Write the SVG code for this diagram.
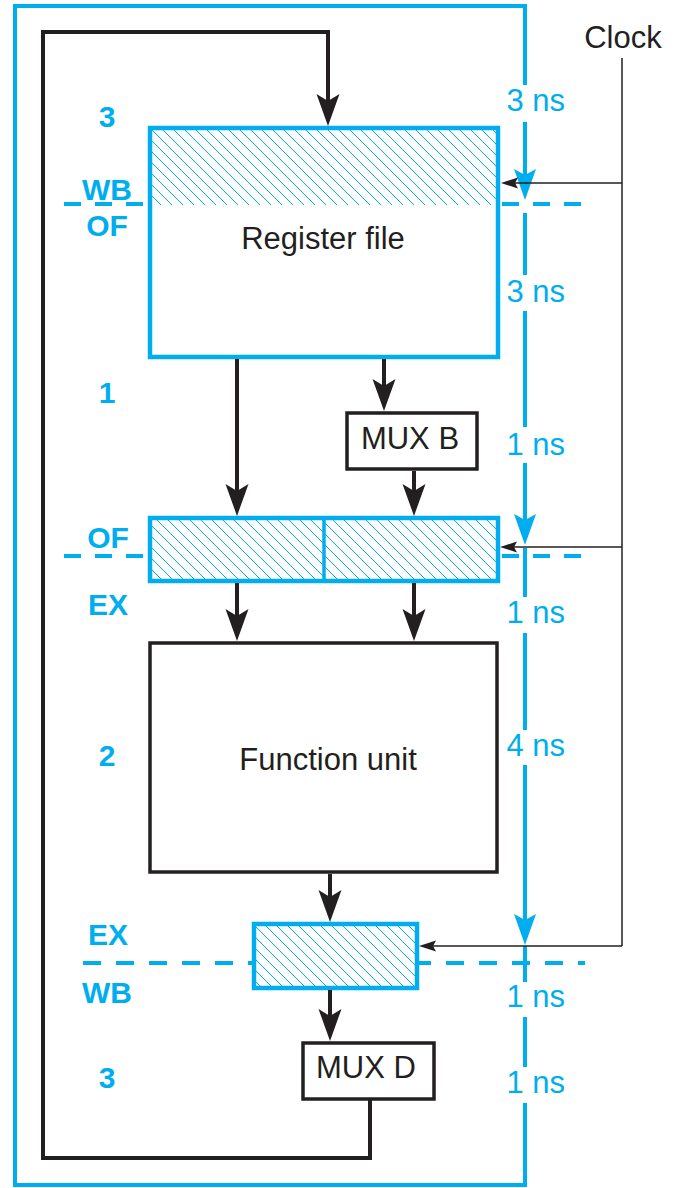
<svg xmlns="http://www.w3.org/2000/svg" width="685" height="1188" viewBox="0 0 685 1188">
<defs>
<style>
.frame{stroke:#00AEEF;stroke-width:4;fill:none}
.dash{stroke:#00AEEF;stroke-width:4;stroke-dasharray:17 14;fill:none}
.dash2{stroke:#00AEEF;stroke-width:4;stroke-dasharray:18 15;fill:none}
.tarrow{stroke:#00AEEF;stroke-width:4;fill:none;marker-end:url(#ahb)}
.reg{fill:url(#hatch);stroke:#00AEEF;stroke-width:4.5}
.regw{fill:#fff;stroke:none}
.regb{fill:none;stroke:#00AEEF;stroke-width:4.5}
.box{fill:#fff;stroke:#231F20;stroke-width:3.5}
.wire{stroke:#231F20;stroke-width:4;fill:none;stroke-linejoin:miter}
.wa{marker-end:url(#ah)}
.clk{stroke:#231F20;stroke-width:1.5;fill:none}
.ca{marker-end:url(#ahc)}
.t{font-family:'Liberation Sans',Arial,Helvetica,sans-serif;font-size:31px;fill:#231F20;text-anchor:middle}
.ns{font-family:'Liberation Sans',Arial,Helvetica,sans-serif;font-size:31px;fill:#00AEEF;text-anchor:end}
.lb{font-family:'Liberation Sans',Arial,Helvetica,sans-serif;font-size:30px;font-weight:bold;fill:#00AEEF;text-anchor:middle}
</style>
<pattern id="hatch" patternUnits="userSpaceOnUse" width="11" height="11">
<rect width="11" height="11" fill="#fff"/>
<path d="M-1,-1 L12,12 M-1,10 L1,12 M10,-1 L12,1" stroke="#00AEEF" stroke-width="1"/>
</pattern>
<marker id="ah" markerUnits="userSpaceOnUse" viewBox="-8 -12 34 24" refX="3" refY="0" markerWidth="34" markerHeight="24" orient="auto">
<path d="M-7,-11.5 L25,0 L-7,11.5 L0,0 Z" fill="#231F20"/>
</marker>
<marker id="ahb" markerUnits="userSpaceOnUse" viewBox="-8 -12 34 24" refX="3" refY="0" markerWidth="34" markerHeight="24" orient="auto">
<path d="M-6,-11 L25,0 L-6,11 L0,0 Z" fill="#00AEEF"/>
</marker>
<marker id="ahc" markerUnits="userSpaceOnUse" viewBox="-4 -7 19 14" refX="2" refY="0" markerWidth="19" markerHeight="14" orient="auto">
<path d="M-3,-5.5 L14,0 L-3,5.5 L0,0 Z" fill="#231F20"/>
</marker>
</defs>
<rect width="685" height="1188" fill="#fff"/>

<g id="timing">
<path class="frame" d="M525,85 V6 H15 V1185 H525 V1103"/>
<path class="tarrow" d="M525,122 V178"/>
<path class="frame" d="M525,213 V275 M525,311 V427 M525,548 V597 M525,633 V730 M525,946 V982 M525,1017 V1067"/>
<path class="tarrow" d="M525,463 V523"/>
<path class="tarrow" d="M525,765 V923"/>
<path class="dash" d="M64,204 H146 M502,204 H584 M64,556 H146 M502,556 H584"/>
<path class="dash2" d="M83,963 H585"/>
<text class="ns" x="565" y="111">3 ns</text>
<text class="ns" x="565" y="302">3 ns</text>
<text class="ns" x="565" y="455">1 ns</text>
<text class="ns" x="565" y="623">1 ns</text>
<text class="ns" x="565" y="756">4 ns</text>
<text class="ns" x="565" y="1007">1 ns</text>
<text class="ns" x="565" y="1093">1 ns</text>
</g>

<g id="stage-labels">
<text class="lb" x="107" y="127">3</text>
<text class="lb" x="107" y="200">WB</text>
<text class="lb" x="107" y="236">OF</text>
<text class="lb" x="107" y="403">1</text>
<text class="lb" x="108" y="548">OF</text>
<text class="lb" x="108" y="615">EX</text>
<text class="lb" x="107" y="766">2</text>
<text class="lb" x="108" y="945">EX</text>
<text class="lb" x="107" y="1003">WB</text>
<text class="lb" x="107" y="1088">3</text>
</g>

<g id="register-file">
<rect class="regw" x="150" y="128" width="348" height="229"/>
<rect x="152" y="130" width="344" height="75" fill="url(#hatch)"/>
<rect class="regb" x="150" y="128" width="348" height="229"/>
<text class="t" x="323" y="249">Register file</text>
</g>

<g id="mux-b">
<rect class="box" x="347" y="413" width="130" height="56"/>
<text class="t" x="410" y="449">MUX B</text>
</g>

<g id="of-ex-register">
<rect class="reg" x="150" y="518" width="348" height="63"/>
<line x1="324" y1="518" x2="324" y2="581" stroke="#00AEEF" stroke-width="3.5"/>
</g>

<g id="function-unit">
<rect class="box" x="150" y="643" width="347" height="229"/>
<text class="t" x="328" y="770">Function unit</text>
</g>

<g id="ex-wb-register">
<rect class="reg" x="254" y="924" width="163" height="64"/>
</g>

<g id="mux-d">
<rect class="box" x="303" y="1043" width="131" height="56"/>
<text class="t" x="366" y="1078">MUX D</text>
</g>

<g id="clock">
<text class="t" x="623" y="48">Clock</text>
</g>

<g id="connectors">
<path class="wire wa" d="M370,1099 V1158 H43 V32 H328 V104"/>
<path class="wire wa" d="M237,359 V494"/>
<path class="wire wa" d="M384,359 V389"/>
<path class="wire wa" d="M414,471 V494"/>
<path class="wire wa" d="M237,583 V619"/>
<path class="wire wa" d="M414,583 V619"/>
<path class="wire wa" d="M330,874 V900"/>
<path class="wire wa" d="M330,990 V1019"/>
<path class="clk" d="M622,58 V946"/>
<path class="clk ca" d="M622,183 H513"/>
<path class="clk ca" d="M622,547 H512"/>
<path class="clk ca" d="M622,946 H431"/>
</g>
</svg>
